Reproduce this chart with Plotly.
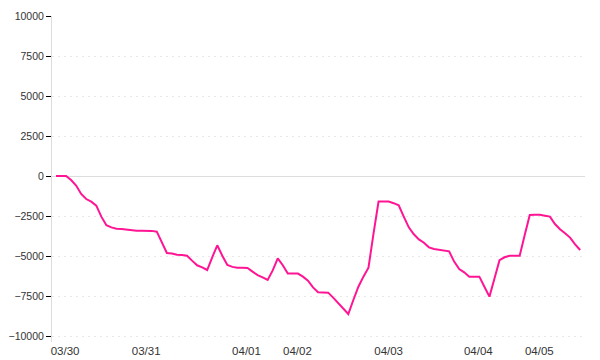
import plotly.graph_objects as go

# values per sample (index 0..104)
values = [
    0, 0, 0, -250, -600, -1125, -1440, -1600, -1850, -2540,
    -3080, -3210, -3290, -3310, -3350, -3400, -3420, -3420, -3420, -3430,
    -3480, -4170, -4810, -4850, -4920, -4940, -4980, -5290, -5580, -5710,
    -5875, -5080, -4330, -4980, -5560, -5680, -5730, -5730, -5750, -5980,
    -6190, -6330, -6500, -5900, -5150, -5575, -6100, -6100, -6100, -6290,
    -6540, -6960, -7270, -7280, -7290, -7600, -7940, -8310, -8625, -7750,
    -6920, -6290, -5730, -3600, -1600, -1600, -1600, -1700, -1830, -2540,
    -3210, -3640, -3960, -4170, -4460, -4560, -4600, -4670, -4710, -5350,
    -5810, -6020, -6290, -6290, -6290, -6920, -7540, -6400, -5260, -5080,
    -4980, -4980, -4980, -3690, -2440, -2420, -2420, -2480, -2540, -3000,
    -3330, -3580, -3850, -4270, -4625,
]
sample_index = list(range(len(values)))

date_labels = ["03/30", "03/31", "04/01", "04/02", "04/03", "04/04", "04/05"]
date_positions = [1.8, 17.9, 37.8, 47.9, 66.0, 83.8, 95.9]

y_ticks = [-10000, -7500, -5000, -2500, 0, 2500, 5000, 7500, 10000]
y_ticktext = [str(v).replace("-", "\u2212") for v in y_ticks]

fig = go.Figure()
fig.add_trace(go.Scatter(
    x=sample_index, y=values, mode="lines",
    line=dict(color="#ff1493", width=2),
    hoverinfo="skip",
))

fig.update_layout(
    width=600, height=360,
    margin=dict(l=52, r=15, t=16, b=18),
    paper_bgcolor="white", plot_bgcolor="white",
    showlegend=False,
    font=dict(family="Liberation Sans, Arial, sans-serif", color="#333", size=11),
)
fig.update_xaxes(
    range=[-0.79, 104.96],
    tickmode="array", tickvals=date_positions, ticktext=date_labels,
    showgrid=False, zeroline=False, showline=False, ticks="",
    tickfont=dict(size=11.5),
    automargin=False,
    fixedrange=True,
)
fig.update_yaxes(
    range=[-10375, 10000],
    tickmode="array", tickvals=y_ticks, ticktext=y_ticktext,
    showgrid=True, gridcolor="#e8e8e8", griddash="2px,4px", gridwidth=1,
    zeroline=True, zerolinecolor="#dddddd", zerolinewidth=1,
    showline=True, linecolor="#dddddd", linewidth=1,
    ticks="outside", ticklen=5, tickcolor="#000", tickwidth=1,
    tickfont=dict(size=10.5),
    automargin=False,
    fixedrange=True,
)

fig.write_html("out.html")
